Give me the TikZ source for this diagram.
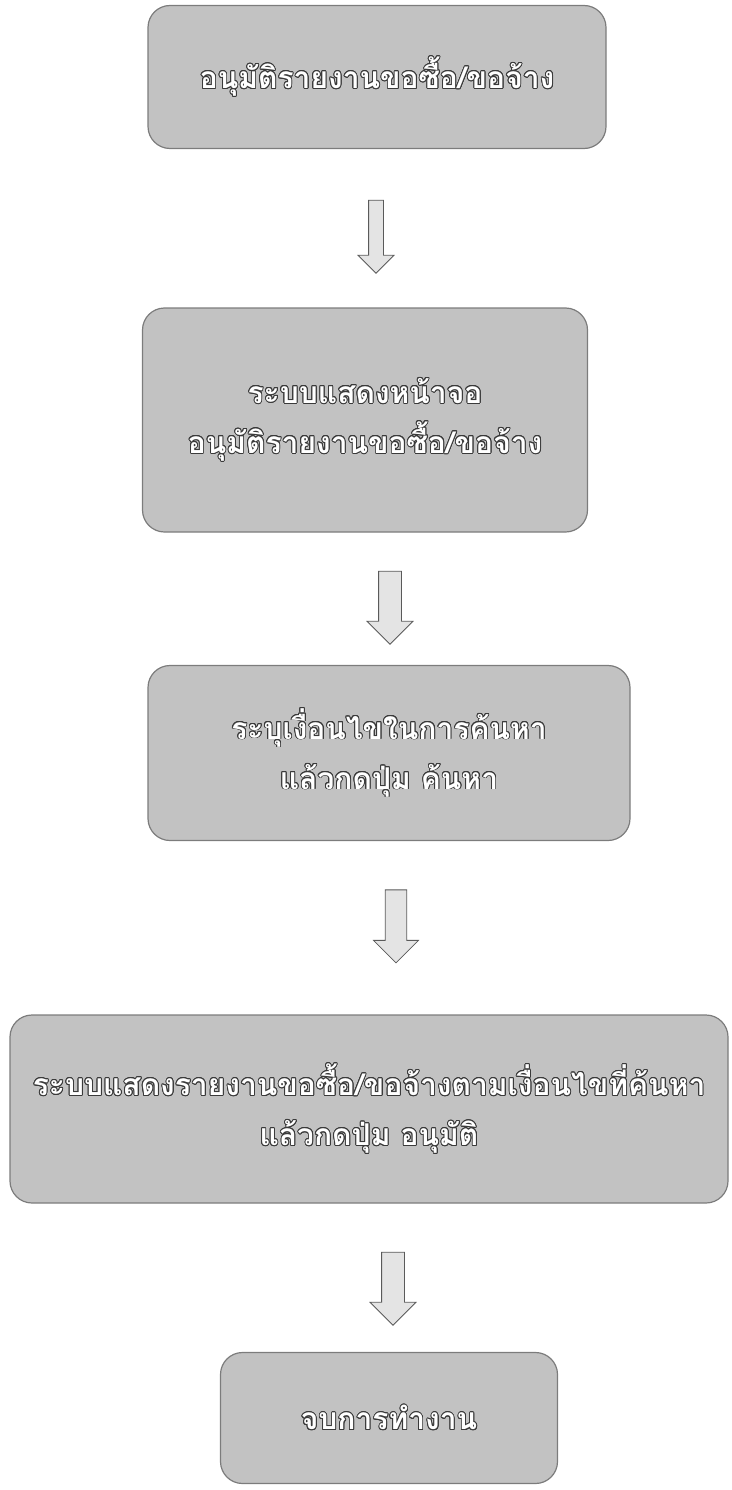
\documentclass[tikz,border=0pt]{standalone}
\usepackage{fontspec}
\newfontfamily\thaifont[Script=Thai]{Loma}
\usepackage{contour}
\contourlength{0.9pt}
\usetikzlibrary{shapes.arrows,positioning,calc}
\definecolor{ink}{HTML}{3A3A3A}
\definecolor{wash}{HTML}{C2C2C2}
\definecolor{edge}{HTML}{7C7C7C}
\definecolor{arrwash}{HTML}{E4E4E4}
\definecolor{arredge}{HTML}{5A5A5A}
\newcommand{\outl}[1]{\contour{ink}{#1}}
\tikzset{
  every node/.style={font=\thaifont\bfseries\fontsize{30}{50}\selectfont, text=white},
  box/.style={draw=edge, line width=1.2pt, fill=wash, rounded corners=22pt,
              align=center, inner sep=0pt},
  flow/.style={single arrow, draw=arredge, fill=arrwash, line width=0.8pt, rotate=-90,
               inner xsep=0pt, inner ysep=11pt, minimum height=73pt, minimum width=45pt,
               single arrow head extend=11.5pt},
}

\begin{document}
\begin{tikzpicture}[x=1pt,y=-1pt]
\useasboundingbox (0,0) rectangle (731,1490);

% ================= steps =================
\node[box, minimum width=458pt, minimum height=143pt] (approve) at (377,77)
  {\outl{อนุมัติรายงานขอซื้อ/ขอจ้าง}};
\node[box, minimum width=445pt, minimum height=224pt] (screen) at (365,420)
  {\outl{ระบบแสดงหน้าจอ}\\\outl{อนุมัติรายงานขอซื้อ/ขอจ้าง}};
\node[box, minimum width=482pt, minimum height=175pt] (search) at (389,753)
  {\outl{ระบุเงื่อนไขในการค้นหา}\\\outl{แล้วกดปุ่ม ค้นหา}};
\node[box, minimum width=718pt, minimum height=188pt] (result) at (369,1109)
  {\outl{ระบบแสดงรายงานขอซื้อ/ขอจ้างตามเงื่อนไขที่ค้นหา}\\\outl{แล้วกดปุ่ม อนุมัติ}};
\node[box, minimum width=337pt, minimum height=131pt] (finish) at (389,1418)
  {\outl{จบการทำงาน}};

% ================= block arrows between steps =================
\node[flow, inner ysep=7pt, minimum width=35pt, single arrow head extend=10.5pt] (a1) at (376,233) {};
\node[flow] (a2) at (390,602) {};
\node[flow, inner ysep=10pt] (a3) at (396,921) {};
\node[flow] (a4) at (393,1283) {};

\end{tikzpicture}
\end{document}
